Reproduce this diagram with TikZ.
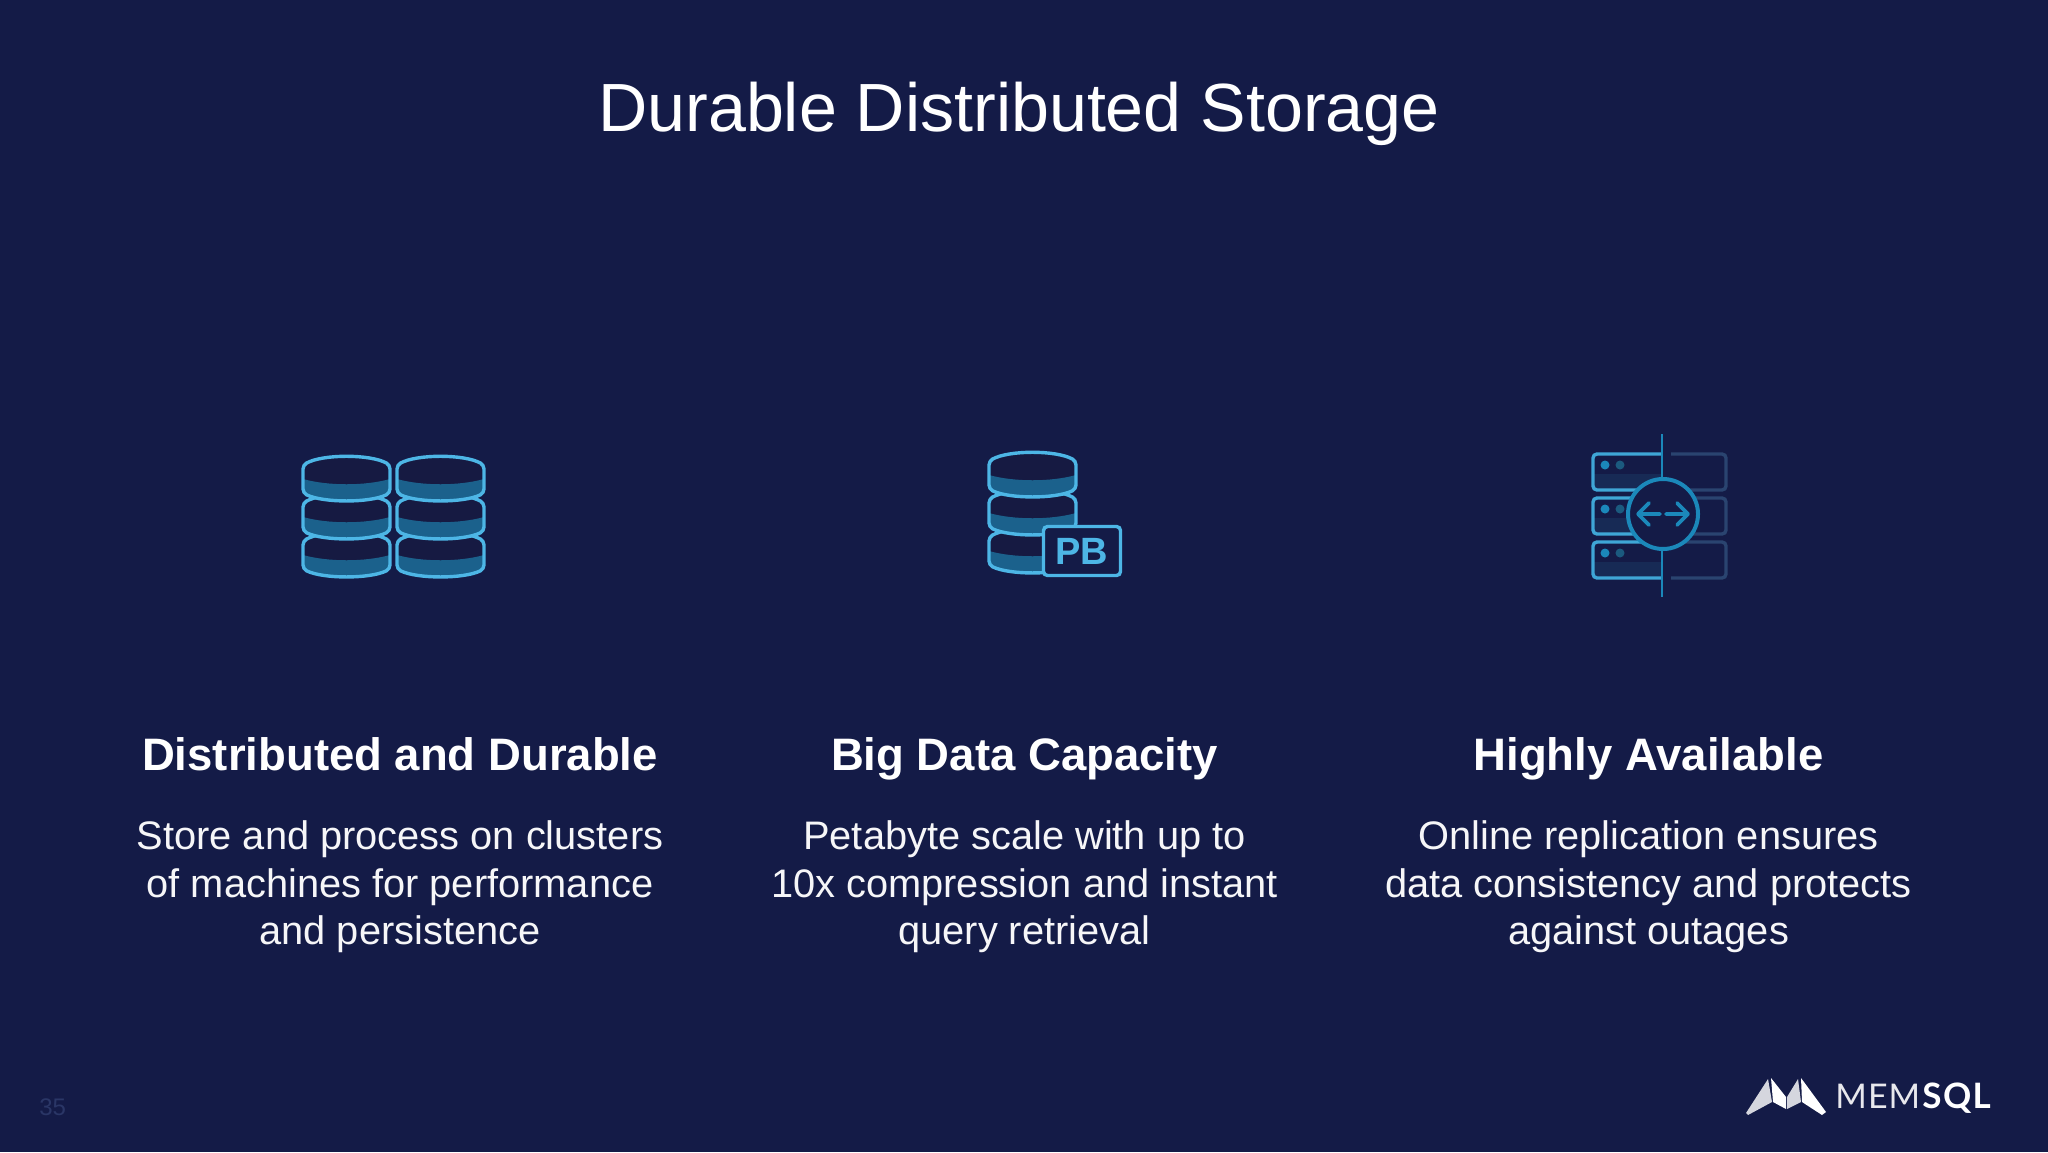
\documentclass[tikz,border=0pt]{standalone}
\usepackage{fontspec}
\setmainfont{Liberation Sans}
\newfontfamily\logofont{Lato}
\usetikzlibrary{positioning}
\definecolor{slidebg}{HTML}{141B47}
\definecolor{iconline}{HTML}{4DB6E6}
\definecolor{iconband}{HTML}{1B618C}
\definecolor{icondark}{HTML}{161A42}
\definecolor{ringline}{HTML}{1B88BA}
\definecolor{dimline}{HTML}{2A4470}
\definecolor{rowline}{HTML}{3FA6D6}
\definecolor{rowband}{HTML}{172A55}
\definecolor{dimdot}{HTML}{1B5A7F}
\definecolor{pagenum}{HTML}{2A3666}
\tikzset{
  heading/.style={anchor=base, text=white, font=\fontsize{22.75}{26}\selectfont\bfseries},
  bodyline/.style={anchor=base, text=white!96!slidebg, font=\fontsize{19.9}{24}\selectfont},
  disc/.pic={
    \fill [icondark] (0, 8) .. controls (20, -3) and (67, -3) .. (87, 8) -- (87, 36) .. controls (67, 46) and (20, 46) .. (0, 36) -- cycle;
    \fill [iconband] (0, 22) .. controls (25, 29) and (62, 29) .. (87, 22) -- (87, 36) .. controls (67, 46) and (20, 46) .. (0, 36) -- cycle;
    \draw [iconline, line width=1.7pt, rounded corners=2pt] (0, 8) .. controls (20, -3) and (67, -3) .. (87, 8) -- (87, 36) .. controls (67, 46) and (20, 46) .. (0, 36) -- cycle;
  },
  rowdots/.pic={
    \fill [ringline] (0, 0) circle (4.5);
    \fill [dimdot] (15, 0) circle (4.5);
  }
}
\begin{document}
\begin{tikzpicture}[x=0.5pt, y=-0.5pt]
  \fill [slidebg] (0, 0) rectangle (2048, 1152);
  \useasboundingbox (0, 0) rectangle (2048, 1152);
  \node [anchor=base, text=white, font=\fontsize{34.1}{38}\selectfont] (title) at (1019, 131) {Durable Distributed Storage};
  % left icon
  \foreach \stackx in {303, 397} {
    \pic at (\stackx, 533) {disc};
    \pic at (\stackx, 495) {disc};
    \pic at (\stackx, 457) {disc};
  }
  % middle icon
  \pic at (989, 529) {disc};
  \pic at (989, 491) {disc};
  \pic at (989, 453) {disc};
  \node [draw=iconline, fill=slidebg, line width=1.7pt, rounded corners=2pt, minimum width=38.5pt, minimum height=24.5pt, inner sep=0pt, text=iconline, font=\fontsize{19}{19}\selectfont\bfseries] (pbbox) at (1082, 551) {PB};
  % right icon
  \foreach \rowy in {454, 498, 542} {
    \fill [rowband] (1593, \rowy + 20) rectangle (1662, \rowy + 35);
    \draw [rowline, line width=1.7pt, rounded corners=2pt] (1662, \rowy) -- (1593, \rowy) -- (1593, \rowy + 36) -- (1662, \rowy + 36);
    \draw [dimline, line width=1.7pt, rounded corners=2pt] (1671, \rowy) -- (1726, \rowy) -- (1726, \rowy + 36) -- (1671, \rowy + 36);
    \pic at (1605, \rowy + 11) {rowdots};
  }
  \coordinate (railtop) at (1662, 434);
  \coordinate (railbottom) at (1662, 597);
  \node [circle, draw=ringline, fill=slidebg, line width=2pt, minimum size=35pt, inner sep=0pt] (ring) at (1663, 514) {};
  \draw [ringline, line width=1.4pt] (railtop) -- (ring.north -| railtop);
  \draw [ringline, line width=1.4pt] (railbottom) -- (ring.south -| railbottom);
  \coordinate (tipleft) at (1638, 514);
  \coordinate (tipright) at (1688, 514);
  \draw [ringline, line width=1.8pt, line cap=round, line join=round] (1660, 514) -- (tipleft) (1649, 503) -- (tipleft) -- (1649, 525);
  \draw [ringline, line width=1.8pt, line cap=round, line join=round] (1666, 514) -- (tipright) (1677, 503) -- (tipright) -- (1677, 525);
  % columns
  \node [heading] (headleft) at (400, 770.5) {Distributed and Durable};
  \node [heading] (headmid) at (1024.5, 770.5) {Big Data Capacity};
  \node [heading] (headright) at (1648.5, 770.5) {Highly Available};
  \node [bodyline] (left1) at (400, 849) {Store and process on clusters};
  \node [bodyline] (left2) at (400, 897) {of machines for performance};
  \node [bodyline] (left3) at (400, 944) {and persistence};
  \node [bodyline] (mid1) at (1024.5, 849) {Petabyte scale with up to};
  \node [bodyline] (mid2) at (1024.5, 897) {10x compression and instant};
  \node [bodyline] (mid3) at (1024.5, 944) {query retrieval};
  \node [bodyline] (right1) at (1648.5, 849) {Online replication ensures};
  \node [bodyline] (right2) at (1648.5, 897) {data consistency and protects};
  \node [bodyline] (right3) at (1648.5, 944) {against outages};
  % footer
  \node [anchor=base west, inner sep=0pt, text=pagenum, font=\fontsize{12}{14}\selectfont] (pageno) at (39, 1115) {35};
  \fill [white!82!slidebg] (1746, 1113) -- (1768, 1079) -- (1772, 1102) -- (1748, 1115) -- cycle;
  \fill [white] (1771, 1078) -- (1786, 1097) -- (1786, 1109) -- (1773, 1102) -- cycle;
  \fill [white!82!slidebg] (1787, 1097) -- (1798, 1079) -- (1801, 1102) -- (1787, 1109) -- cycle;
  \fill [white] (1801, 1078) -- (1826, 1112) -- (1822, 1115) -- (1802, 1102) -- cycle;
  \node [anchor=base west, inner sep=0pt, text=white!90!slidebg, font=\logofont\fontsize{17}{18}\selectfont\addfontfeatures{LetterSpace=3}] (logomem) at (1835, 1108) {MEM};
  \node [anchor=base west, inner sep=0pt, text=white, font=\logofont\fontsize{17.5}{18}\selectfont\bfseries\addfontfeatures{LetterSpace=4}] (logosql) at (1922, 1108) {SQL};
\end{tikzpicture}
\end{document}
